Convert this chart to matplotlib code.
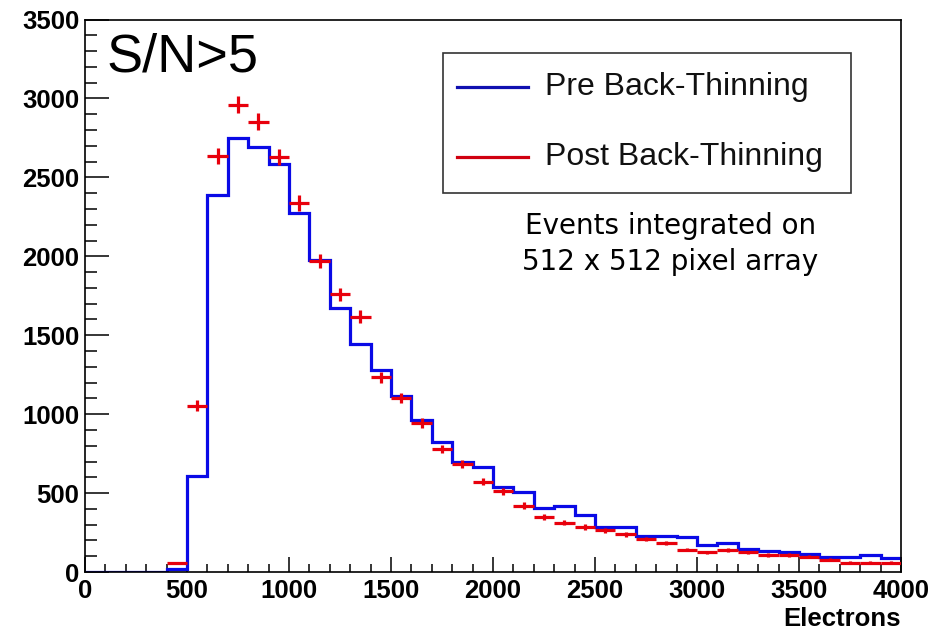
import matplotlib
matplotlib.use('Agg')
import matplotlib.pyplot as plt
from matplotlib.patches import Rectangle
from matplotlib.ticker import MultipleLocator
import numpy as np

# histogram binning (electrons), 100 e- per bin
bin_edges = np.arange(0, 4001, 100)

# counts per bin
pre_thinning = [0, 0, 0, 0, 17, 610, 2390, 2750, 2695, 2585,
                2273, 1975, 1674, 1446, 1280, 1113, 961, 823, 694, 667,
                538, 508, 406, 417, 360, 286, 286, 229, 229, 220,
                171, 182, 144, 135, 125, 116, 97, 97, 110, 87]
post_thinning = [0, 0, 0, 0, 55, 1054, 2637, 2961, 2853, 2629,
                 2337, 1970, 1759, 1617, 1234, 1103, 944, 779, 686, 573,
                 512, 421, 351, 313, 286, 265, 239, 210, 182, 142,
                 125, 138, 125, 108, 108, 97, 78, 59, 59, 59]

legend_labels = ['Pre Back-Thinning', 'Post Back-Thinning']
note_lines = ['Events integrated on', '512 x 512 pixel array']
cut_label = 'S/N>5'

blue = '#0a0ae6'
red = '#e8000c'

fig = plt.figure(figsize=(9.49, 6.34), dpi=100)
ax = fig.add_axes([85 / 949, 62 / 634, 816 / 949, 552.5 / 634])

ax.stairs(pre_thinning, bin_edges, baseline=None, color=blue, lw=2.3, zorder=2)

post = np.array(post_thinning, dtype=float)
centers = 0.5 * (bin_edges[:-1] + bin_edges[1:])
keep = post > 0
ax.errorbar(centers[keep], post[keep], xerr=50, yerr=np.sqrt(post[keep]),
            fmt='none', ecolor=red, elinewidth=2.3, capsize=0, zorder=3)

ax.set_xlim(0, 4000)
ax.set_ylim(0, 3500)
ax.xaxis.set_major_locator(MultipleLocator(500))
ax.xaxis.set_minor_locator(MultipleLocator(100))
ax.yaxis.set_major_locator(MultipleLocator(500))
ax.yaxis.set_minor_locator(MultipleLocator(100))
ax.tick_params(axis='both', which='both', direction='in', color='black',
               top=False, right=False)
ax.tick_params(axis='x', which='major', length=11, width=1.1, pad=5)
ax.tick_params(axis='x', which='minor', length=5.5, width=1.1)
ax.tick_params(axis='y', which='major', length=17, width=1.1, pad=4)
ax.tick_params(axis='y', which='minor', length=8.5, width=1.1)
for lab in ax.get_xticklabels() + ax.get_yticklabels():
    lab.set_fontfamily('Liberation Sans')
    lab.set_fontweight('bold')
    lab.set_fontsize(18.5)
for sp in ax.spines.values():
    sp.set_linewidth(1.2)

ax.set_xlabel('Electrons', loc='right', fontsize=18.5, fontweight='bold',
              family='Liberation Sans', labelpad=3)

ax.text(0.026, 0.905, cut_label, transform=ax.transAxes, fontsize=39,
        family='Liberation Sans', va='baseline', ha='left')

# legend box
ax.add_patch(Rectangle((0.4387, 0.686), 0.5, 0.253, transform=ax.transAxes,
                       facecolor='white', edgecolor='#333333', lw=1.2, zorder=5))
for ypos, col, lab in zip([0.8778, 0.7511], ['#1010b0', '#d00010'], legend_labels):
    ax.plot([0.4559, 0.5429], [ypos, ypos], transform=ax.transAxes,
            color=col, lw=2.3, zorder=6)
    ax.text(0.5637, ypos, lab, transform=ax.transAxes, fontsize=23,
            family='Liberation Sans', va='center', ha='left', color='#111111',
            zorder=6)

for ypos, line in zip([0.612, 0.547], note_lines):
    ax.text(0.717, ypos, line, transform=ax.transAxes, fontsize=20,
            family='DejaVu Sans', va='baseline', ha='center', color='black')

fig.savefig('out.png', dpi=100)
